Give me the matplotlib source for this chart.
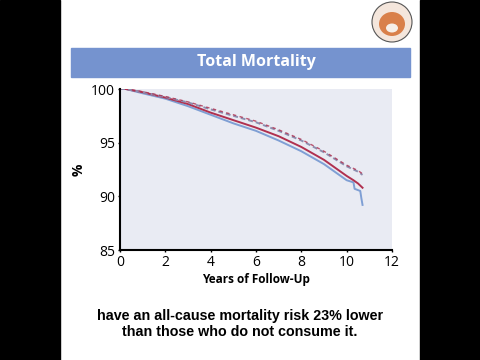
import matplotlib
matplotlib.use('agg')
import matplotlib.pyplot as plt
from matplotlib.patches import Rectangle, Ellipse

# survival curves (years, %)
years = [0, 0.25, 1, 2, 3, 4, 5, 6, 7, 8, 9, 10, 10.3]
red_solid = [100, 100, 99.7, 99.2, 98.6, 97.8, 97.1, 96.4, 95.6, 94.6, 93.4, 91.9, 91.5]
blue_solid = [100, 100, 99.6, 99.1, 98.4, 97.6, 96.8, 96.1, 95.2, 94.2, 93.0, 91.5, 91.3]
red_dash = [100, 100, 99.75, 99.3, 98.8, 98.2, 97.6, 97.0, 96.2, 95.3, 94.2, 92.9, 92.6]
blue_dash = [100, 100, 99.7, 99.25, 98.75, 98.1, 97.5, 96.9, 96.1, 95.2, 94.1, 92.8, 92.5]

# tails
red_tail_x = [10.3, 10.5, 10.7]
red_tail_y = [91.5, 91.2, 90.8]
blue_tail_x = [10.3, 10.35, 10.6, 10.65, 10.7]
blue_tail_y = [91.3, 90.7, 90.5, 89.8, 89.2]
dash_tail_x = [10.3, 10.5, 10.7]
red_dash_tail = [92.6, 92.4, 92.1]
blue_dash_tail = [92.5, 92.3, 92.0]

xticks = [0, 2, 4, 6, 8, 10, 12]
yticks = [85, 90, 95, 100]

RED = '#b0304f'
BLUE = '#7f9fd4'

fig = plt.figure(figsize=(4.8, 3.6), dpi=100)
fig.patch.set_facecolor('white')

def px(x, y, w, h):
    return (x / 480, 1 - (y + h) / 360, w / 480, h / 360)

# letterbox bars
for x0, w in [(0, 60), (420, 60)]:
    l, b, ww, hh = px(x0, 0, w, 360)
    fig.patches.append(Rectangle((l, b), ww, hh, transform=fig.transFigure,
                                 color='black', zorder=0))

# title bar
l, b, ww, hh = px(71, 48, 339, 29)
fig.patches.append(Rectangle((l, b), ww, hh, transform=fig.transFigure,
                             color='#7593cf', zorder=1))
fig.text(256 / 480, 1 - 62 / 360, 'Total Mortality', color='white',
         fontsize=11.5, fontweight='bold', family='Open Sans',
         ha='center', va='center')

# logo (simple stand-in)
fig.patches.append(Ellipse((392 / 480, 1 - 22 / 360), 40 / 480, 40 / 360,
                           transform=fig.transFigure, facecolor='#f4e6dc',
                           edgecolor='#555555', lw=0.8, zorder=2))
fig.patches.append(Ellipse((392 / 480, 1 - 24 / 360), 26 / 480, 24 / 360,
                           transform=fig.transFigure, facecolor='#d9804a',
                           edgecolor='none', zorder=3))
fig.patches.append(Ellipse((392 / 480, 1 - 28 / 360), 12 / 480, 9 / 360,
                           transform=fig.transFigure, facecolor='#f6efe8',
                           edgecolor='none', zorder=4))

ax = fig.add_axes(px(120, 89, 272, 161))
ax.set_facecolor('#e9ebf3')
ax.plot(years + blue_tail_x[1:], blue_solid + blue_tail_y[1:], color=BLUE, lw=1.4)
ax.plot(years + red_tail_x[1:], red_solid + red_tail_y[1:], color=RED, lw=1.4)
ax.plot(years + dash_tail_x[1:], blue_dash + blue_dash_tail[1:], color='#8d8fb0', lw=1.4, ls=(0, (2.5, 1.5)))
ax.plot(years + dash_tail_x[1:], red_dash + red_dash_tail[1:], color=RED, lw=1.0, ls=(1.5, (2.5, 2.5)), alpha=0.8)

ax.set_xlim(0, 12)
ax.set_ylim(85, 100)
ax.set_xticks(xticks)
ax.set_yticks(yticks)
for s in ['top', 'right']:
    ax.spines[s].set_visible(False)
for s in ['left', 'bottom']:
    ax.spines[s].set_linewidth(1.5)
ax.tick_params(length=1.5, width=1, labelsize=10, pad=2)
for lab in ax.get_xticklabels() + ax.get_yticklabels():
    lab.set_family('Open Sans')
ax.set_xlabel('Years of Follow-Up', fontsize=8.5, fontweight='bold',
              family='Open Sans', labelpad=2)
ax.set_ylabel('%', fontsize=10, fontweight='bold', family='Open Sans', labelpad=4)

fig.text(240 / 480, 1 - 324 / 360,
         'have an all-cause mortality risk 23% lower\nthan those who do not consume it.',
         ha='center', va='center', fontsize=10.3, fontweight='bold',
         family='Liberation Sans', linespacing=1.15)

fig.savefig('out.png', dpi=100)
